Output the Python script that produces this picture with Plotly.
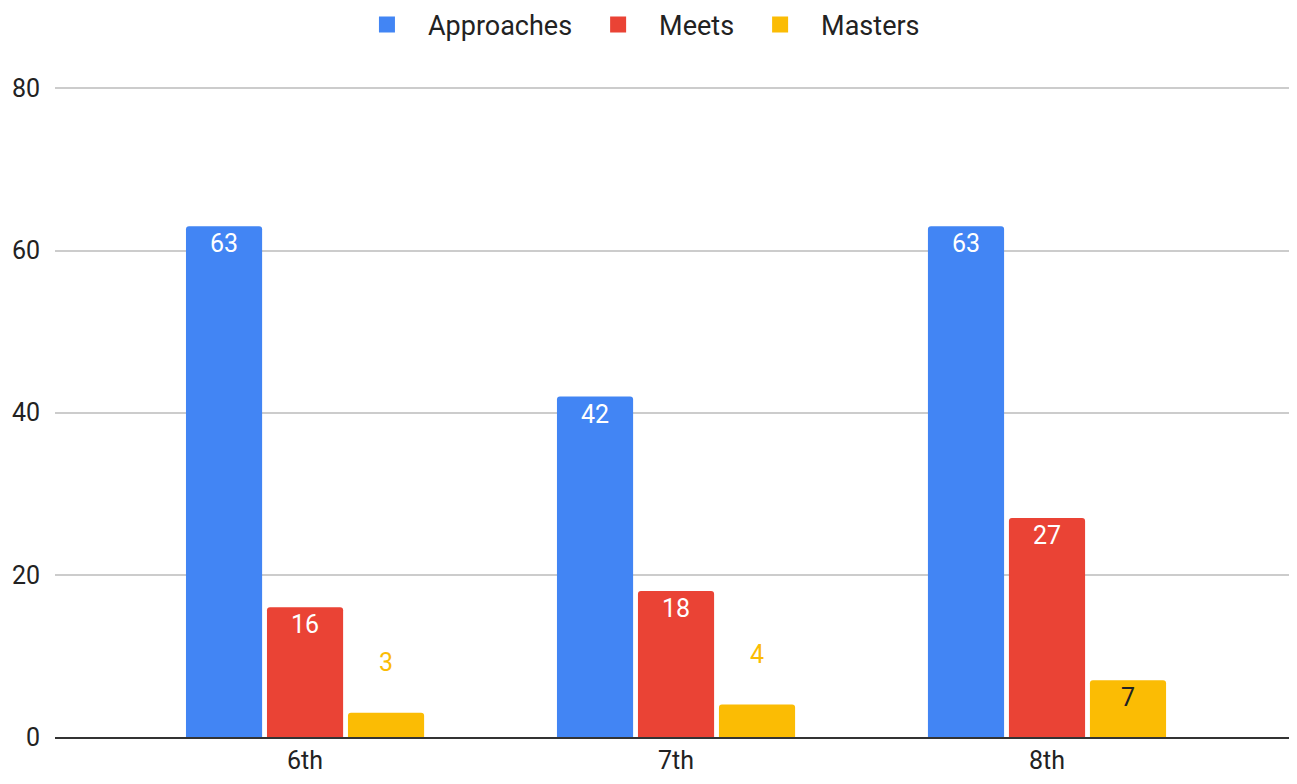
import plotly.graph_objects as go

categories = ["6th", "7th", "8th"]
approaches = [63, 42, 63]
meets = [16, 18, 27]
masters = [3, 4, 7]
y_ticks = [0, 20, 40, 60, 80]
series_names = ["Approaches", "Meets", "Masters"]

BLUE = "#4285f4"
RED = "#ea4335"
YELLOW = "#fbbc04"
COLORS = [BLUE, RED, YELLOW]
FONT = "Roboto, Arial, sans-serif"
TXT = "#222222"

fig = go.Figure()

fig.add_trace(go.Bar(
    name="Approaches", x=categories, y=approaches, showlegend=False,
    marker=dict(color=BLUE, cornerradius=3, line=dict(width=0)),
    text=[str(v) for v in approaches], textposition="inside",
    insidetextanchor="end", textangle=0,
    textfont=dict(color="white", size=25, family=FONT),
))
fig.add_trace(go.Bar(
    name="Meets", x=categories, y=meets, showlegend=False,
    marker=dict(color=RED, cornerradius=3, line=dict(width=0)),
    text=[str(v) for v in meets], textposition="inside",
    insidetextanchor="end", textangle=0,
    textfont=dict(color="white", size=25, family=FONT),
))
m_pos = ["outside" if v < 5 else "inside" for v in masters]
m_text = [f"{v}<br> " if p == "outside" else str(v) for v, p in zip(masters, m_pos)]
m_col = [YELLOW if p == "outside" else "#202124" for p in m_pos]
fig.add_trace(go.Bar(
    name="Masters", x=categories, y=masters, showlegend=False,
    marker=dict(color=YELLOW, cornerradius=3, line=dict(width=0)),
    text=m_text, textposition=m_pos,
    insidetextanchor="end", textangle=0, cliponaxis=False,
    textfont=dict(color=m_col, size=25, family=FONT),
))

# legend-only entries with square swatches
for nm, col in zip(series_names, COLORS):
    fig.add_trace(go.Scatter(
        name=nm, x=[None], y=[None], mode="markers",
        marker=dict(symbol="square", size=24, color=col),
        showlegend=True,
    ))

# page body has an 8px margin, so the figure is sized to fit the window
fig.update_layout(
    width=1289, height=776,
    margin=dict(l=47, r=7, t=78, b=47, autoexpand=False),
    paper_bgcolor="white", plot_bgcolor="white",
    barmode="group", bargap=0.345, bargroupgap=0.06,
    font=dict(family=FONT, size=24, color=TXT),
    showlegend=True,
    legend=dict(orientation="h", x=0.47, xanchor="center",
                y=0.978, yanchor="middle", yref="container",
                font=dict(size=27, color=TXT), itemsizing="trace",
                itemwidth=72, traceorder="normal"),
)
fig.update_xaxes(
    type="category", range=[-0.674, 2.655], automargin=False,
    showgrid=False, showline=True, linecolor="#333333", linewidth=2,
    ticks="", tickfont=dict(size=25, color=TXT), zeroline=False,
)
fig.update_yaxes(
    range=[0, 80.3], tickvals=y_ticks, ticktext=[str(t) for t in y_ticks],
    automargin=False,
    showgrid=True, gridcolor="#cccccc", gridwidth=2,
    zeroline=False, showline=False, ticks="",
    tickfont=dict(size=25, color=TXT), ticklabelstandoff=14,
)

fig.write_html("out.html")
